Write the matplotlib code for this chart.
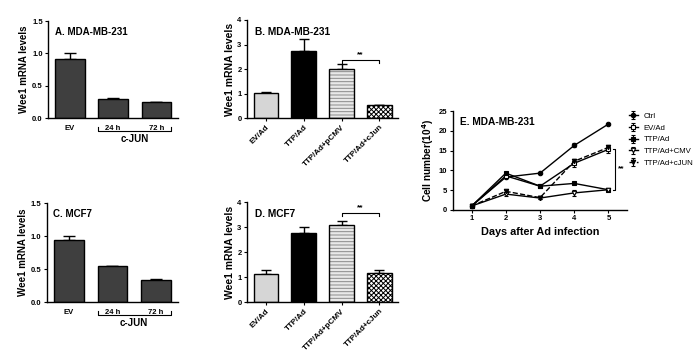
import matplotlib.pyplot as plt
import matplotlib.transforms as mtransforms

plt.rcParams['font.family'] = ['Liberation Sans', 'DejaVu Sans']
plt.rcParams['font.weight'] = 'bold'
plt.rcParams['axes.labelweight'] = 'bold'
plt.rcParams['mathtext.default'] = 'bf'
plt.rcParams['hatch.linewidth'] = 0.7

# panel A / C: c-JUN time course
cjun_labels = ['EV', '24 h', '72 h']
a_values = [0.92, 0.30, 0.25]
a_errors = [0.08, 0.01, 0.0]
c_values = [0.94, 0.55, 0.33]
c_errors = [0.06, 0.0, 0.02]

# panel B / D: TTP rescue
ttp_labels = ['EV/Ad', 'TTP/Ad', 'TTP/Ad+pCMV', 'TTP/Ad+cJun']
b_values = [1.03, 2.73, 2.02, 0.52]
b_errors = [0.02, 0.50, 0.18, 0.02]
d_values = [1.13, 2.78, 3.10, 1.18]
d_errors = [0.15, 0.22, 0.15, 0.12]

# panel E: growth curves
days = [1, 2, 3, 4, 5]
ctrl = [1.0, 8.3, 9.3, 16.3, 21.7]
ctrl_err = [0.1, 0.3, 0.2, 0.5, 0.2]
ev_ad = [1.0, 8.6, 6.0, 11.8, 15.3]
ev_ad_err = [0.1, 0.3, 0.3, 1.0, 0.8]
ttp_ad = [1.0, 9.3, 6.0, 6.7, 5.1]
ttp_ad_err = [0.1, 0.3, 0.3, 0.2, 0.2]
ttp_cmv = [1.0, 4.0, 3.0, 4.3, 5.1]
ttp_cmv_err = [0.1, 0.4, 0.3, 0.8, 0.2]
ttp_cjun = [1.0, 4.7, 3.1, 12.3, 15.8]
ttp_cjun_err = [0.1, 0.3, 0.3, 0.5, 0.6]


def style_axes(ax):
	ax.spines['top'].set_visible(False)
	ax.spines['right'].set_visible(False)
	ax.spines['left'].set_linewidth(1.0)
	ax.spines['bottom'].set_linewidth(1.0)
	ax.tick_params(length=2.5, width=0.8, labelsize=5.5, pad=1.5)


def cjun_panel(ax, values, errors, title):
	x = range(len(values))
	ax.bar(x, values, width=0.68, color='#3f3f3f', edgecolor='black', linewidth=1.0, zorder=2)
	ax.errorbar(x, values, yerr=[[0] * len(errors), errors], fmt='none', ecolor='black',
				elinewidth=1.0, capsize=4, capthick=1.0, zorder=1)
	ax.set_xlim(-0.5, 2.5)
	ax.set_ylim(0, 1.5)
	ax.set_yticks([0, 0.5, 1.0, 1.5])
	ax.set_yticklabels(['0.0', '0.5', '1.0', '1.5'])
	ax.set_xticks(list(x))
	ax.set_xticklabels(cjun_labels)
	style_axes(ax)
	ax.tick_params(axis='x', length=0, pad=5)
	ax.set_ylabel('Wee1 mRNA levels', fontsize=7, labelpad=2)
	ax.text(0.05, 0.89, title, transform=ax.transAxes, fontsize=7, va='center')
	# c-JUN group bracket
	trans = mtransforms.blended_transform_factory(ax.transData, ax.transAxes)
	ax.plot([0.66, 0.66, 2.34, 2.34], [-0.09, -0.13, -0.13, -0.09], color='black',
			linewidth=0.8, transform=trans, clip_on=False)
	ax.text(1.5, -0.21, 'c-JUN', transform=trans, fontsize=7, ha='center', va='center')


def ttp_panel(ax, values, errors, title, bracket_y):
	x = list(range(len(values)))
	w = 0.66
	ax.bar(x[0], values[0], width=w, color='#d6d6d6', edgecolor='black', linewidth=1.0, zorder=2)
	ax.bar(x[1], values[1], width=w, color='black', edgecolor='black', linewidth=1.0, zorder=2)
	ax.bar(x[2], values[2], width=w, color='#e8e8e8', edgecolor='#8a8a8a', hatch='-----',
		   linewidth=0, zorder=2)
	ax.bar(x[2], values[2], width=w, color='none', edgecolor='black', linewidth=1.0, zorder=3)
	ax.bar(x[3], values[3], width=w, color='white', edgecolor='black', hatch='xxxxxxx',
		   linewidth=1.0, zorder=2)
	ax.errorbar(x, values, yerr=[[0] * len(errors), errors], fmt='none', ecolor='black',
				elinewidth=1.0, capsize=3.5, capthick=1.0, zorder=1)
	ax.set_xlim(-0.5, 3.5)
	ax.set_ylim(0, 4)
	ax.set_yticks([0, 1, 2, 3, 4])
	ax.set_xticks(x)
	style_axes(ax)
	ax.set_xticklabels(ttp_labels, rotation=45, ha='right', rotation_mode='anchor', fontsize=5.8)
	ax.set_ylabel('Wee1 mRNA levels', fontsize=7.5, labelpad=2)
	ax.text(0.05, 0.88, title, transform=ax.transAxes, fontsize=7.3, va='center')
	# significance bracket
	ax.plot([2, 2, 3, 3], [bracket_y - 0.1, bracket_y, bracket_y, bracket_y - 0.1],
			color='black', linewidth=0.8, clip_on=False)
	ax.text(2.5, bracket_y + 0.08, '**', fontsize=6, ha='center', va='bottom')


fig = plt.figure(figsize=(7.0, 3.57), dpi=100)

ax_a = fig.add_axes([0.069, 0.669, 0.185, 0.272])
cjun_panel(ax_a, a_values, a_errors, 'A. MDA-MB-231')

ax_c = fig.add_axes([0.067, 0.154, 0.187, 0.277])
cjun_panel(ax_c, c_values, c_errors, 'C. MCF7')

ax_b = fig.add_axes([0.353, 0.669, 0.216, 0.275])
ttp_panel(ax_b, b_values, b_errors, 'B. MDA-MB-231', 2.35)

ax_d = fig.add_axes([0.353, 0.154, 0.216, 0.280])
ttp_panel(ax_d, d_values, d_errors, 'D. MCF7', 3.56)

ax_e = fig.add_axes([0.647, 0.412, 0.249, 0.277])
series = [
	(ctrl, ctrl_err, 'Ctrl', 'o', 'black', '-'),
	(ev_ad, ev_ad_err, 'EV/Ad', 's', 'white', '-'),
	(ttp_ad, ttp_ad_err, 'TTP/Ad', 's', 'black', '-'),
	(ttp_cmv, ttp_cmv_err, 'TTP/Ad+CMV', 'v', 'white', '-'),
	(ttp_cjun, ttp_cjun_err, 'TTP/Ad+cJUN', 'v', 'black', '--'),
]
for vals, errs, label, marker, face, ls in series:
	ax_e.errorbar(days, vals, yerr=errs, color='black', linestyle=ls, linewidth=1.0,
				  marker=marker, markersize=3.2, markerfacecolor=face, markeredgecolor='black',
				  markeredgewidth=0.8, capsize=1.5, elinewidth=0.8, label=label)
ax_e.set_xlim(0.45, 5.55)
ax_e.set_ylim(0, 25)
ax_e.set_xticks(days)
ax_e.set_yticks([0, 5, 10, 15, 20, 25])
style_axes(ax_e)
ax_e.set_xlabel('Days after Ad infection', fontsize=7.8, labelpad=3)
ax_e.set_ylabel('Cell number(10$^4$)', fontsize=7.3, labelpad=2)
ax_e.text(0.04, 0.89, 'E. MDA-MB-231', transform=ax_e.transAxes, fontsize=7.3, va='center')
ax_e.plot([5.12, 5.2, 5.2, 5.12], [5.1, 5.1, 15.5, 15.5], color='black', linewidth=0.8,
		  clip_on=False)
ax_e.text(5.27, 10.3, '**', fontsize=6, ha='left', va='center')
leg = ax_e.legend(loc='upper left', bbox_to_anchor=(1.0, 1.0), frameon=False,
				  fontsize=5.6, handlelength=1.2, handletextpad=0.7, labelspacing=0.55,
				  borderaxespad=0.0, borderpad=0.2)
for t in leg.get_texts():
	t.set_fontweight('normal')

fig.savefig('out.png', dpi=100)
